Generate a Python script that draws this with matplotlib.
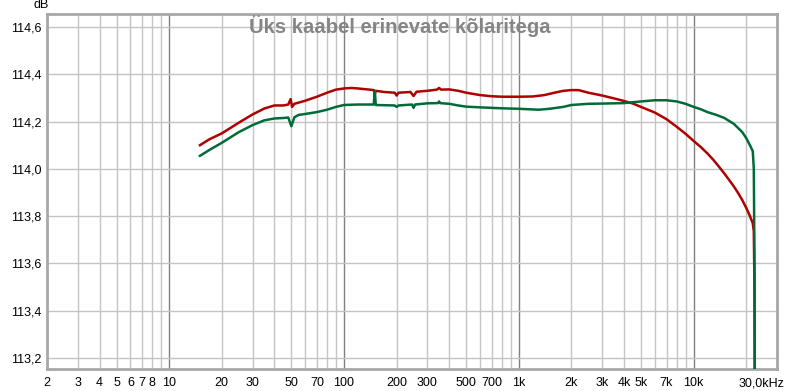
import matplotlib
matplotlib.use("Agg")
import matplotlib.pyplot as plt
from matplotlib.ticker import FixedLocator, NullLocator

title = "Üks kaabel erinevate kõlaritega"

red_freq = [15, 17, 20, 25, 30, 35, 40, 45, 48, 49.5, 50.5, 52, 55, 60, 70, 80, 90, 100, 110, 120,
            140, 148, 150, 152, 170, 195, 200, 205, 240, 250, 260, 300, 340, 350, 360, 400, 450,
            500, 600, 700, 800, 1000, 1200, 1400, 1600, 1800, 2000, 2200, 2500, 3000, 3500, 4000,
            4500, 5000, 6000, 7000, 8000, 9000, 10000, 11000, 12000, 13000, 14000, 15000, 16000,
            17000, 18000, 19000, 20000, 21000, 21800, 22100, 22300, 22400]
red_db = [114.10, 114.125, 114.15, 114.195, 114.23, 114.255, 114.268, 114.268, 114.272, 114.295,
          114.262, 114.275, 114.28, 114.288, 114.305, 114.322, 114.335, 114.34, 114.342, 114.34,
          114.335, 114.333, 114.315, 114.33, 114.325, 114.322, 114.31, 114.322, 114.325, 114.308,
          114.326, 114.33, 114.335, 114.342, 114.335, 114.336, 114.33, 114.322, 114.312, 114.307,
          114.305, 114.305, 114.306, 114.312, 114.322, 114.33, 114.333, 114.333, 114.322, 114.31,
          114.298, 114.287, 114.276, 114.262, 114.238, 114.21, 114.178, 114.148, 114.118, 114.092,
          114.065, 114.037, 114.008, 113.98, 113.952, 113.925, 113.897, 113.867, 113.835, 113.80,
          113.77, 113.735, 113.5, 113.0]

green_freq = [15, 17, 20, 25, 30, 35, 40, 45, 48, 50, 52, 55, 60, 70, 80, 90, 100, 120, 148, 150,
              152, 195, 200, 205, 245, 250, 255, 300, 345, 350, 355, 400, 450, 500, 600, 800, 1000,
              1300, 1500, 1800, 2000, 2500, 3000, 4000, 5000, 6000, 7000, 8000, 9000, 10000, 11000,
              12000, 13500, 15000, 17000, 19000, 20000, 21000, 21800, 22100, 22300, 22500]
green_db = [114.055, 114.08, 114.11, 114.155, 114.185, 114.205, 114.213, 114.215, 114.217, 114.18,
            114.218, 114.228, 114.232, 114.24, 114.25, 114.262, 114.27, 114.272, 114.272, 114.33,
            114.27, 114.268, 114.262, 114.268, 114.272, 114.258, 114.272, 114.277, 114.278, 114.285,
            114.278, 114.275, 114.268, 114.263, 114.26, 114.256, 114.254, 114.25, 114.254, 114.262,
            114.27, 114.275, 114.276, 114.278, 114.285, 114.29, 114.29, 114.285, 114.275, 114.262,
            114.252, 114.24, 114.228, 114.215, 114.19, 114.155, 114.13, 114.1, 114.075, 114.0,
            113.6, 112.5]

x_ticks = [2, 3, 4, 5, 6, 7, 8, 10, 20, 30, 50, 70, 100, 200, 300, 500, 700, 1000,
           2000, 3000, 4000, 5000, 7000, 10000]
x_labels = ["2", "3", "4", "5", "6", "7", "8", "10", "20", "30", "50", "70", "100", "200",
            "300", "500", "700", "1k", "2k", "3k", "4k", "5k", "7k", "10k"]
y_ticks = [113.2, 113.4, 113.6, 113.8, 114.0, 114.2, 114.4, 114.6]
y_labels = ["113,2", "113,4", "113,6", "113,8", "114,0", "114,2", "114,4", "114,6"]

plt.rcParams['font.family'] = ['Liberation Sans', 'DejaVu Sans']

fig = plt.figure(figsize=(8, 3.91), dpi=100)
ax = fig.add_axes([47/800, 1-369/391, 730/800, 355/391])

ax.set_xscale('log')
ax.set_xlim(2, 30000)
ax.set_ylim(113.153, 114.655)

# grid
minor = [m * 10**d for d in range(0, 5) for m in range(2, 10) if 2 <= m * 10**d <= 30000]
for f in minor:
    ax.axvline(f, color='#c4c4c4', lw=1.0, zorder=1)
for f in [10, 100, 1000, 10000]:
    ax.axvline(f, color='#808080', lw=1.0, zorder=1)
for y in y_ticks:
    ax.axhline(y, color='#c4c4c4', lw=1.0, zorder=1)

ax.plot(red_freq, red_db, color='#b00000', lw=1.8, zorder=3, solid_joinstyle='round')
ax.plot(green_freq, green_db, color='#006b38', lw=1.8, zorder=4, solid_joinstyle='round')

ax.xaxis.set_major_locator(FixedLocator(x_ticks))
ax.set_xticklabels(x_labels)
ax.xaxis.set_minor_locator(NullLocator())
ax.set_yticks(y_ticks)
ax.set_yticklabels(y_labels)
ax.yaxis.set_minor_locator(NullLocator())
ax.tick_params(axis='both', length=0, labelsize=9, colors='#000000')
ax.tick_params(axis='x', pad=6)
ax.tick_params(axis='y', pad=4)

ax.annotate("30,0kHz", xy=(30000, 0), xycoords=('data', 'axes fraction'),
            xytext=(5, -6), textcoords='offset points', ha='right', va='top', fontsize=9)

for s in ax.spines.values():
    s.set_color('#a8a8a8')
    s.set_linewidth(2.0)

fig.text(33/800, 1-5/391, "dB", ha='left', va='center', fontsize=9)
fig.text(400/800, 1-33/391, title, ha='center', va='baseline', fontsize=14.6,
         fontweight='bold', color='#858585', zorder=10)

fig.savefig("out.png", dpi=100)
